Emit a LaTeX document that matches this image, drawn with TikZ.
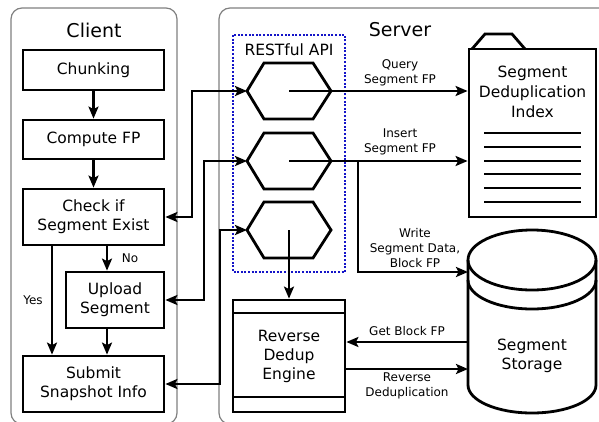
\documentclass[tikz,border=0pt]{standalone}
\usepackage{fontspec}
\setmainfont{DejaVu Sans}
\usetikzlibrary{arrows.meta}

\definecolor{apiblue}{RGB}{20,20,200}

\tikzset{
  box/.style={draw, line width=2.8pt, fill=white, inner sep=0pt, align=center,
    font=\fontsize{15.5}{19}\selectfont},
  lbl/.style={inner sep=0pt, align=center, font=\fontsize{12}{15}\selectfont},
  ttl/.style={inner sep=0pt, font=\fontsize{19}{23}\selectfont},
  panel/.style={draw=black!50, line width=1.2pt, rounded corners=11pt},
  wire/.style={line width=2.8pt},
  arr/.style={wire, -{Stealth[length=12pt,width=10pt,inset=2.5pt]}},
  dblarr/.style={wire, {Stealth[length=12pt,width=10pt,inset=2.5pt]}-{Stealth[length=12pt,width=10pt,inset=2.5pt]}},
  shp/.style={line width=2.8pt, line join=miter},
}

\begin{document}
\begin{tikzpicture}[x=1pt, y=-1pt]
\useasboundingbox (0,0) rectangle (599,421);
\clip (0,0) rectangle (599,421);

% panels
\draw[panel] (11,8) rectangle (177,424);
\draw[panel] (219,8) rectangle (612,424);
\node[ttl] (tclient) at (94,30) {Client};
\node[ttl] (tserver) at (400,30) {Server};

% RESTful API group
\draw[apiblue, line width=1.3pt, dash pattern=on 2pt off 1.6pt] (233,35) rectangle (345,272);
\node[inner sep=0pt, font=\fontsize{15.5}{19}\selectfont] (tapi) at (289,50) {RESTful API};

% client steps
\node[box, minimum width=141pt, minimum height=40pt] (chunk) at (93.5,70) {Chunking};
\node[box, minimum width=141pt, minimum height=39pt] (fp) at (93.5,139.5) {Compute FP};
\node[box, minimum width=141pt, minimum height=56pt] (check) at (93.5,217) {Check if\\Segment Exist};
\node[box, minimum width=98pt, minimum height=56pt] (upload) at (115,300) {Upload\\Segment};
\node[box, minimum width=141pt, minimum height=56pt] (submit) at (93.5,384) {Submit\\Snapshot Info};

\draw[arr] (chunk) -- (fp);
\draw[arr] (fp) -- (check);
\draw[arr] (check.south -| 107,0) -- (upload.north -| 107,0);
\draw[arr] (upload.south -| 107,0) -- (submit.north -| 107,0);
\draw[arr] (check.south -| 52,0) -- (submit.north -| 52,0);
\node[lbl] (yes) at (33,300) {Yes};
\node[lbl] (no) at (130,258) {No};

% API endpoints (hexagons)
\foreach \n/\y in {1/91, 2/161, 3/230}{
  \draw[shp] (247,\y) -- (264,\y-28) -- (313,\y-28) -- (331,\y) -- (313,\y+28) -- (264,\y+28) -- cycle;
  \coordinate (h\n w) at (247,\y);
  \coordinate (h\n c) at (289,\y);
}

% index document
\draw[shp, fill=white] (472,49) -- (485,34) -- (512,34) -- (525,49);
\node[box, minimum width=127pt, minimum height=168pt] (index) at (532.5,133) {};
\node[inner sep=0pt, align=center, font=\fontsize{15.5}{20}\selectfont] (tindex) at (532.5,92)
  {Segment\\Deduplication\\Index};
\foreach \y in {133,147,161,174,188,202}
  \draw[line width=2.2pt] (484,\y) -- (581,\y);

% storage cylinder
\draw[shp, fill=white] (468,260) -- (468,385) arc[start angle=180, end angle=360, x radius=64pt, y radius=28pt]
  -- (596,260);
\draw[shp] (532,260) ellipse [x radius=64pt, y radius=30pt];
\draw[shp] (468,280) arc[start angle=180, end angle=360, x radius=64pt, y radius=29pt];
\node[inner sep=0pt, align=center, font=\fontsize{15.5}{19}\selectfont] (store) at (532,356) {Segment\\Storage};
\coordinate (storeA) at (468,272);
\coordinate (storeB) at (468,342);
\coordinate (storeC) at (468,369);

% reverse dedup engine
\node[box, minimum width=112pt, minimum height=112pt] (engine) at (289,356) {Reverse\\Dedup\\Engine};
\draw[shp] (233,313) -- (345,313);
\draw[shp] (233,397) -- (345,397);

% client <-> API
\draw[dblarr] (h1w) -- (192,91) |- (check.east);
\draw[dblarr] (h2w) -- (204,161) |- (upload.east);
\draw[dblarr] (h3w) -- (220,230) |- (submit.east);

% API -> index / storage / engine
\draw[arr] (h1c) -- (index.west |- h1c);
\draw[arr] (h2c) -- (index.west |- h2c);
\draw[arr] (358,161) |- (storeA);
\draw[arr] (h3c) -- (engine.north);
\node[lbl] (lq) at (400,73) {Query\\Segment FP};
\node[lbl] (li) at (400,142) {Insert\\Segment FP};
\node[lbl] (lw) at (415,248) {Write\\Segment Data,\\Block FP};

% engine <-> storage
\draw[arr] (storeB) -- (engine.east |- storeB);
\draw[arr] (engine.east |- storeC) -- (storeC);
\node[lbl] (lg) at (407,331) {Get Block FP};
\node[lbl] (lr) at (407,386) {Reverse\\Deduplication};
\end{tikzpicture}
\end{document}
